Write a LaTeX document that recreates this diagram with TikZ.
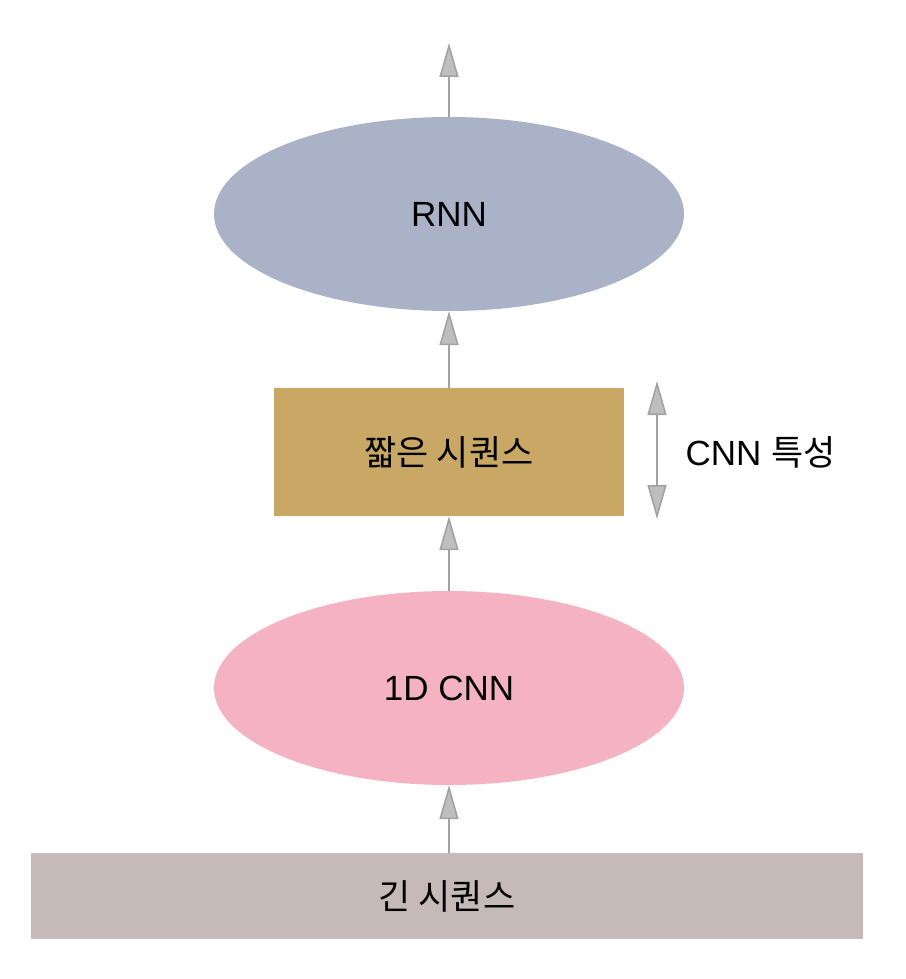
\documentclass[tikz,border=0pt]{standalone}
\usepackage{fontspec}
\setmainfont{Liberation Sans}
\newfontfamily\kr{Noto Sans CJK KR}
\usetikzlibrary{arrows.meta,shapes.geometric}
\definecolor{rnncol}{HTML}{AAB2C8}
\definecolor{cnncol}{HTML}{F5B2C2}
\definecolor{shortcol}{HTML}{C9A764}
\definecolor{longcol}{HTML}{C5BAB8}
\definecolor{arrcol}{HTML}{A2A2A2}
\begin{document}
\begin{tikzpicture}[x=1pt,y=-1pt,
	font=\fontsize{35}{40}\selectfont,
	tip/.tip={Triangle[width=19pt,length=34pt,fill=arrcol!70]},
	blob/.style={ellipse,inner sep=0pt,minimum width=470pt,minimum height=194pt},
	seqbox/.style={rectangle,inner sep=0pt},
	flow/.style={draw=arrcol,line width=1.6pt,-tip}]
	\useasboundingbox (0,0) rectangle (905,979);
	% blocks
	\node[blob,fill=rnncol] (rnn) at (449,214) {RNN};
	\node[seqbox,fill=shortcol,minimum width=350pt,minimum height=128pt] (short) at (449,452) {\kr 짧은 시퀀스};
	\node[blob,fill=cnncol] (cnn) at (449,688) {1D CNN};
	\node[seqbox,fill=longcol,minimum width=832pt,minimum height=86pt] (long) at (447,896) {\kr 긴 시퀀스};
	% connectors
	\coordinate (out) at (449,43);
	\draw[flow] (cnn.south |- long.north) -- (cnn.south);
	\draw[flow] (cnn.north) -- (short.south);
	\draw[flow] (short.north) -- (rnn.south);
	\draw[flow] (rnn.north) -- (out);
	% CNN features
	\coordinate (ftop) at (657,381);
	\coordinate (fbot) at (657,519);
	\draw[flow,tip-tip] (ftop) -- (fbot);
	\node[anchor=west] (feat) at (682,452) {CNN {\kr 특성}};
\end{tikzpicture}
\end{document}
